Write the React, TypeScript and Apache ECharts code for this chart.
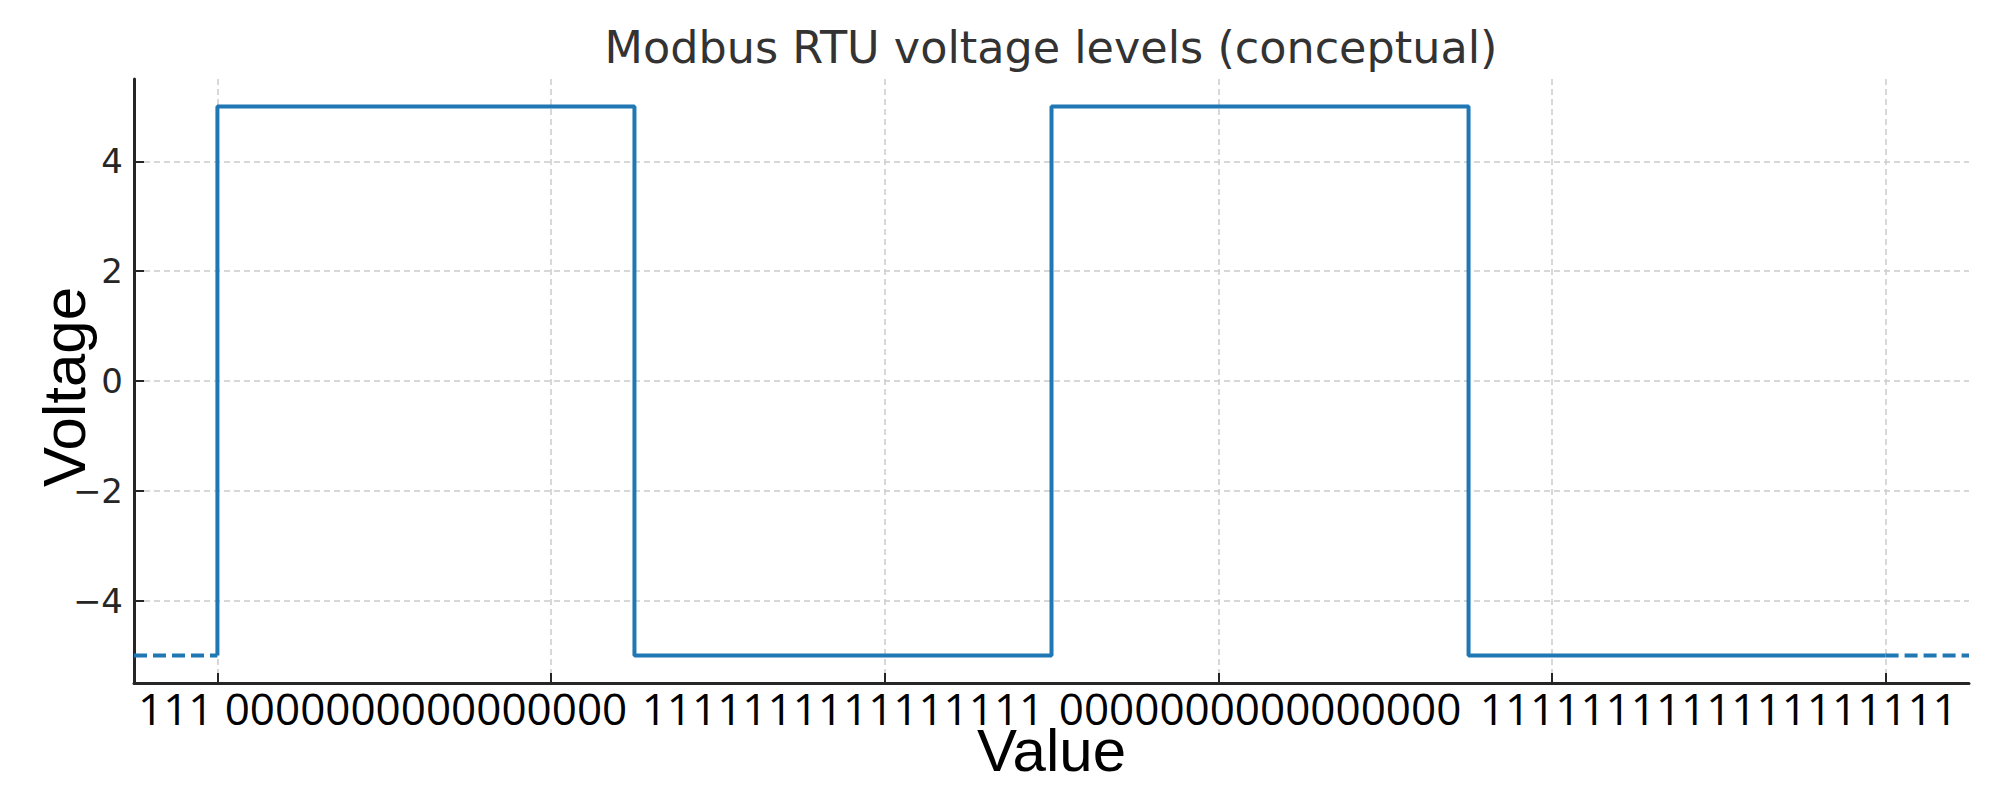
import { useEffect, useRef } from "react";
import * as echarts from "echarts";

// signal edges (time, voltage) drawn as a step line
const edgeTimes = [0, 0, 25, 50, 75, 100];
const edgeLevels = [-5, 5, -5, 5, -5, -5];

// idle line before / after the frame (dashed)
const idleLevel = -5;
const leadTimes = [-5, 0];
const trailTimes = [100, 105];

const xTickValues = [0, 20, 40, 60, 80, 100];
const yTickValues = [-4, -2, 0, 2, 4];

// bit strings written under each segment
const bitLabelPositions = [-2.5, 12.5, 37.5, 62.5, 90];
const bitLabels = [
  "111",
  "0000000000000000",
  "1111111111111111",
  "0000000000000000",
  "1111111111111111111",
];

const BLUE = "#1f77b4";
const INK = "#262626";

export default function App() {
  const chartRef = useRef<HTMLDivElement>(null);

  useEffect(() => {
    if (!chartRef.current) return;
    const chart = echarts.init(chartRef.current, null, { renderer: "svg" });

    const solid = edgeTimes.map((t, i) => [t, edgeLevels[i]]);
    const lead = leadTimes.map((t) => [t, idleLevel]);
    const trail = trailTimes.map((t) => [t, idleLevel]);

    chart.setOption({
      animation: false,
      backgroundColor: "#ffffff",
      title: {
        text: "Modbus RTU voltage levels (conceptual)",
        left: 1046,
        textAlign: "center",
        top: 20,
        textStyle: {
          fontFamily: "DejaVu Sans",
          fontSize: 44.5,
          fontWeight: "normal",
          color: "#333333",
        },
      },
      grid: { left: 134, right: 31, top: 79, bottom: 117 },
      xAxis: {
        type: "value",
        min: -5,
        max: 105,
        name: "Value",
        nameLocation: "middle",
        nameGap: 44,
        nameMoveOverlap: false,
        nameTextStyle: {
          fontFamily: "Liberation Sans",
          fontSize: 60,
          lineHeight: 46,
          color: "#000000",
        },
        axisLine: { show: true, onZero: false, lineStyle: { color: INK, width: 3 } },
        axisTick: {
          show: true,
          inside: true,
          length: 10,
          customValues: xTickValues,
          lineStyle: { color: INK, width: 2 },
        },
        axisLabel: {
          customValues: bitLabelPositions,
          margin: 7,
          fontFamily: "Open Sans",
          fontSize: 44,
          lineHeight: 36,
          color: "#000000",
          formatter: (v: number) => {
            const i = bitLabelPositions.indexOf(v);
            return i >= 0 ? bitLabels[i] : "";
          },
        },
        splitLine: {
          show: true,
          lineStyle: { color: "#cccccc", width: 1.5, type: [6, 4] },
        },
      },
      yAxis: {
        type: "value",
        min: -5.5,
        max: 5.5,
        name: "Voltage",
        nameLocation: "middle",
        nameGap: 40,
        nameRotate: 90,
        nameMoveOverlap: false,
        nameTextStyle: {
          fontFamily: "Liberation Sans",
          fontSize: 60,
          color: "#000000",
          padding: [0, 12, 0, 0],
        },
        axisLine: { show: true, onZero: false, lineStyle: { color: INK, width: 3 } },
        axisTick: {
          show: true,
          inside: true,
          length: 10,
          customValues: yTickValues,
          lineStyle: { color: INK, width: 2 },
        },
        axisLabel: {
          customValues: yTickValues,
          margin: 11,
          fontFamily: "DejaVu Sans",
          fontSize: 34,
          color: INK,
          formatter: (v: number) => (v < 0 ? "\u2212" + Math.abs(v) : String(v)),
        },
        splitLine: {
          show: true,
          lineStyle: { color: "#cccccc", width: 1.5, type: [6, 4] },
        },
      },
      series: [
        {
          type: "line",
          data: solid,
          step: "end",
          showSymbol: false,
          lineStyle: { color: BLUE, width: 4 },
        },
        {
          type: "line",
          data: lead,
          showSymbol: false,
          lineStyle: { color: BLUE, width: 4, type: [13, 6] },
        },
        {
          type: "line",
          data: trail,
          showSymbol: false,
          lineStyle: { color: BLUE, width: 4, type: [13, 6] },
        },
      ],
    });

    return () => {
      chart.dispose();
    };
  }, []);

  return (
    <div
      ref={chartRef}
      style={{ position: "fixed", left: 0, top: 0, width: 2000, height: 800 }}
    />
  );
}
